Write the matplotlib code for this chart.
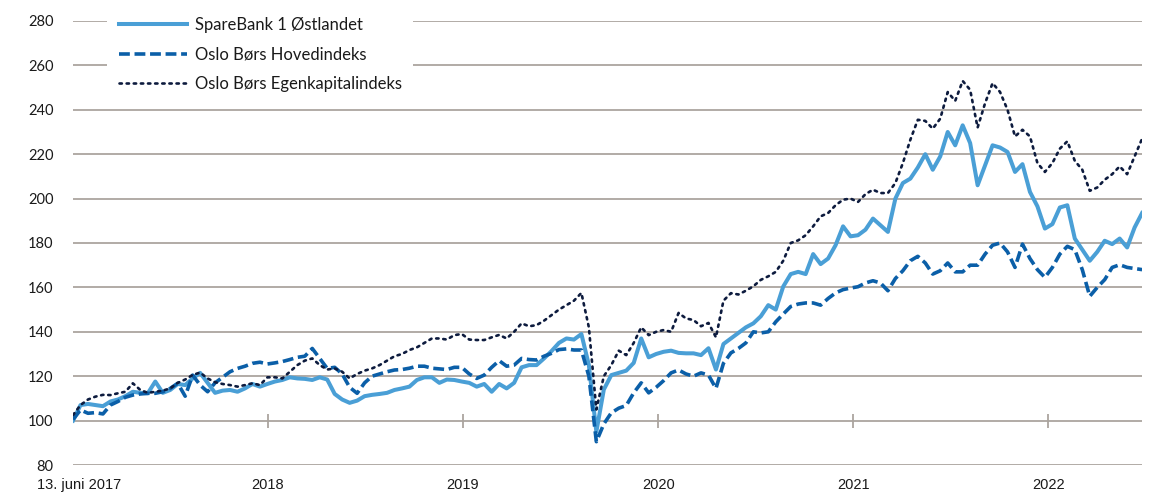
import matplotlib
matplotlib.use("Agg")
import matplotlib.pyplot as plt
import matplotlib.dates as mdates
import matplotlib.transforms as mtransforms
from matplotlib import font_manager
import numpy as np
import pandas as pd

# dato-akse: hver 14. dag fra 13. juni 2017
datoer = pd.date_range("2017-06-13", periods=144, freq="14D")

sparebank = [
    100, 107, 107.5, 107, 106.5, 108.6, 109.5, 111, 113, 112.5,
    112.3, 117.6, 112.5, 113.8, 116.5, 116, 119, 121.5, 117, 112.5,
    113.5, 113.8, 113, 114.5, 116.5, 115.3, 116.5, 117.6, 118.3, 119.5,
    119, 118.8, 118.3, 119.5, 118.5, 112, 109.5, 108, 109, 111,
    111.6, 112, 112.5, 113.8, 114.5, 115.3, 118.3, 119.5, 119.5, 117,
    118.5, 118.3, 117.6, 117, 115.3, 116.5, 113, 116.5, 114.5, 117,
    124, 125, 125, 128, 131.3, 135, 137, 136.5, 139, 125,
    95, 114, 120.5, 121.5, 122.5, 126, 137, 128.5, 130, 131,
    131.5, 130.5, 130.3, 130.3, 129.5, 132.6, 123, 134.5, 137, 139.5,
    142, 143.8, 147, 152, 150, 160.4, 166, 167, 166, 175,
    170.5, 173, 179, 187.5, 183, 183.5, 186, 191, 188, 185,
    200, 207, 209, 214, 220, 213, 219, 230, 224, 233,
    225, 206, 215, 224, 223, 221, 212, 215.5, 203, 196.5,
    186.5, 188.5, 196, 197, 182, 177, 172, 176, 181, 179.5,
    182, 178, 187, 193.5,
]

hovedindeks = [
    100.5, 104.8, 103.3, 103.6, 103, 107, 108.6, 110.5, 111.5, 112,
    112.3, 112.3, 113, 114.5, 116.8, 111, 120.5, 116, 113, 117,
    119.5, 122, 123.5, 124.5, 125.8, 126.3, 125.5, 126, 126.6, 127.5,
    128.5, 129, 132.5, 128, 123.5, 124, 121, 115, 112.3, 117,
    120, 121, 122, 122.8, 123, 123.6, 124.5, 124.5, 123.6, 123.3,
    123, 124, 124, 121, 119, 120.5, 124, 127, 124.5, 125,
    128, 127.5, 127.3, 129, 130.3, 132, 132.3, 131.8, 131.8, 120,
    90.5, 98.5, 103.5, 105.6, 106.8, 112.5, 117, 112.5, 115, 118,
    121.5, 122.8, 121, 120, 121.5, 120.5, 114.5, 125.8, 130.5, 132.5,
    135, 140, 139.5, 140, 144.5, 148, 151.4, 152.5, 153, 153,
    152, 155, 157.5, 159, 159.7, 160.3, 162, 163, 162, 158.5,
    164, 167.5, 172, 174, 171, 166, 167.5, 171, 167, 167,
    170, 170, 175, 179, 180, 176, 169, 179.5, 173, 168,
    164.5, 169, 175, 178.5, 177, 168, 156, 160, 163.5, 169,
    170.2, 169, 168.5, 168,
]

egenkapital = [
    102.5, 107, 109.5, 110.8, 111.6, 111.5, 112.3, 113, 116.8, 113.8,
    112.5, 113, 113.5, 114.5, 117, 118.5, 120.6, 121.6, 119, 117.3,
    116.5, 116, 115.3, 116, 116.8, 116, 119.5, 119.5, 119, 122,
    125, 127, 128, 125, 123, 123.5, 122, 119, 121, 122.5,
    123.5, 125, 127, 129, 130, 131.8, 133, 135, 137, 137,
    136.5, 138.5, 139, 136.5, 136.3, 136.3, 137.5, 138.6, 137, 140,
    143.8, 142.5, 143, 145, 147.5, 150, 152, 154, 157.5, 142,
    105, 120, 125, 131.5, 129.5, 135, 142, 138.5, 140, 140.8,
    140, 148.5, 146, 145.3, 142.5, 144, 137.5, 154, 157.4, 156.8,
    158.5, 160.5, 163.4, 165, 167, 172, 180, 181.2, 183.5, 187.5,
    192, 193.5, 197, 199.5, 200, 198.5, 202, 204, 202.5, 202.5,
    207, 216, 226.5, 235.5, 235, 231.5, 236, 248, 244, 253,
    249, 232, 243, 252, 248, 240, 228, 231, 228, 216,
    212, 216, 222.5, 225.8, 217, 213, 203.5, 205, 208.5, 211,
    214.5, 211, 219, 227,
]

serienavn = ["SpareBank 1 Østlandet", "Oslo Børs Hovedindeks", "Oslo Børs Egenkapitalindeks"]
tick_datoer = ["2017-06-13", "2018-06-13", "2019-06-13", "2020-06-13", "2021-06-13", "2022-06-13"]
tick_tekst = ["13. juni 2017", "2018", "2019", "2020", "2021", "2022"]
y_ticks = [80, 100, 120, 140, 160, 180, 200, 220, 240, 260, 280]

GRID = "#aba59f"
LYSBLA = "#4a9fd6"
BLA = "#0b5fa8"
MARINE = "#0d1b3e"

plt.rcParams["font.family"] = ["Lato", "DejaVu Sans"]

tilgj = {f.name for f in font_manager.fontManager.ttflist}
xfont = "Liberation Sans Narrow" if "Liberation Sans Narrow" in tilgj else "Liberation Sans"

x = mdates.date2num(datoer.to_pydatetime())
xt = mdates.date2num(pd.to_datetime(tick_datoer).to_pydatetime())

fig = plt.figure(figsize=(11.52, 4.95), dpi=100)
ax = fig.add_axes([0.0634, 0.0606, 0.928, 0.897])

ax.plot(x, sparebank, color=LYSBLA, lw=2.9, solid_joinstyle="round", label=serienavn[0], zorder=3)
ax.plot(x, hovedindeks, color=BLA, lw=2.6, linestyle=(0, (3.0, 1.3)), label=serienavn[1], zorder=4)
ax.plot(x, egenkapital, color=MARINE, lw=1.9, linestyle=(0, (0.9, 1.8)), dash_capstyle="round",
        label=serienavn[2], zorder=5)

ax.set_xlim(x[0], x[-1])
ax.set_ylim(80, 280)
ax.set_yticks(y_ticks)
ax.yaxis.grid(True, color=GRID, lw=1.3)
ax.set_axisbelow(True)
for s in ax.spines.values():
    s.set_visible(False)

ax.tick_params(axis="y", length=0, pad=14, labelsize=10.5, labelcolor="#1a1a1a")
ax.set_xticks(xt)
ax.set_xticklabels(tick_tekst, fontfamily=xfont, fontsize=10.5, color="#1a1a1a")
ax.tick_params(axis="x", length=0, pad=9)
# flytt første etikett litt til høyre
lbl0 = ax.get_xticklabels()[0]
lbl0.set_transform(lbl0.get_transform() + mtransforms.ScaledTranslation(6 / 100, 0, fig.dpi_scale_trans))

# tick-streker på 100-linjen
sec = ax.secondary_xaxis(0.1)
sec.set_xticks(xt[1:])
sec.tick_params(axis="x", direction="inout", length=10, width=1.3, color=GRID, labelbottom=False)
sec.spines["bottom"].set_visible(False)

leg = ax.legend(loc="upper left", bbox_to_anchor=(0.032, 1.035), frameon=True, fancybox=False,
                facecolor="white", edgecolor="none", framealpha=1, fontsize=12,
                handlelength=4.1, handletextpad=0.45, labelspacing=0.8, borderpad=0.7,
                borderaxespad=0)
leg.set_zorder(10)
for t in leg.get_texts():
    t.set_color("#1a1a1a")

fig.savefig("out.png", dpi=100)
